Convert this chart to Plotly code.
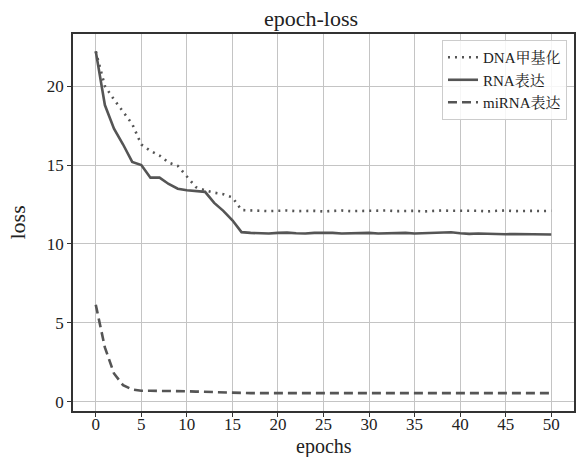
import plotly.graph_objects as go

epochs = list(range(51))

dna_methylation = [22.2, 20.0, 19.15, 18.4, 17.6, 16.3, 15.9, 15.6, 15.15, 14.95,
                   14.3, 13.6, 13.4, 13.25, 13.15, 12.95, 12.15, 12.12, 12.1, 12.08,
                   12.1, 12.12, 12.08, 12.1, 12.1, 12.06, 12.1, 12.12, 12.08, 12.1,
                   12.08, 12.1, 12.12, 12.08, 12.1, 12.1, 12.06, 12.1, 12.12, 12.1,
                   12.08, 12.1, 12.1, 12.06, 12.1, 12.12, 12.08, 12.1, 12.1, 12.08,
                   12.1]

rna_expr = [22.2, 18.8, 17.3, 16.3, 15.2, 15.0, 14.2, 14.2, 13.8, 13.5,
            13.4, 13.35, 13.3, 12.6, 12.1, 11.5, 10.75, 10.7, 10.68, 10.66,
            10.7, 10.72, 10.68, 10.66, 10.7, 10.72, 10.7, 10.66, 10.68, 10.72,
            10.7, 10.66, 10.68, 10.72, 10.7, 10.66, 10.68, 10.7, 10.72, 10.74,
            10.68, 10.64, 10.66, 10.64, 10.62, 10.62, 10.63, 10.62, 10.62, 10.61,
            10.6]

mirna_expr = [6.15, 3.45, 1.8, 1.05, 0.78, 0.7, 0.7, 0.7, 0.7, 0.68,
              0.67, 0.65, 0.63, 0.6, 0.57, 0.55, 0.55, 0.55, 0.55, 0.55,
              0.55, 0.55, 0.55, 0.55, 0.55, 0.55, 0.55, 0.55, 0.55, 0.55,
              0.55, 0.55, 0.55, 0.55, 0.55, 0.55, 0.55, 0.55, 0.55, 0.55,
              0.55, 0.55, 0.55, 0.55, 0.55, 0.55, 0.55, 0.55, 0.55, 0.55,
              0.55]

series_names = ["DNA甲基化", "RNA表达", "miRNA表达"]
x_ticks = [0, 5, 10, 15, 20, 25, 30, 35, 40, 45, 50]
y_ticks = [0, 5, 10, 15, 20]

FONT = "Liberation Serif, Times New Roman, Noto Serif CJK SC, Noto Sans CJK SC, serif"
LINE = "#555555"

fig = go.Figure()
fig.add_trace(go.Scatter(x=epochs, y=dna_methylation, mode="lines", name=series_names[0],
                         line=dict(color=LINE, width=2.6, dash="2px,5px")))
fig.add_trace(go.Scatter(x=epochs, y=rna_expr, mode="lines", name=series_names[1],
                         line=dict(color=LINE, width=2.6)))
fig.add_trace(go.Scatter(x=epochs, y=mirna_expr, mode="lines", name=series_names[2],
                         line=dict(color=LINE, width=2.6, dash="9px,5px")))

axis_common = dict(showgrid=True, gridcolor="#c4c4c4", gridwidth=1,
                   showline=True, linecolor="#333333", linewidth=1.5, mirror=True,
                   ticks="outside", ticklen=4, tickcolor="#333333", tickwidth=1.2,
                   zeroline=False, automargin=False,
                   tickfont=dict(family=FONT, size=17, color="#222"))

L, R, T, B = 73, 11, 34, 46
W, H = 585, 457
pw, ph = W - L - R, H - T - B

fig.update_layout(
    width=W, height=H,
    margin=dict(l=L, r=R, t=T, b=B),
    paper_bgcolor="white", plot_bgcolor="white",
    font=dict(family=FONT, color="#222"),
    title=dict(text="epoch-loss", x=311/W, xanchor="center", xref="container",
               y=1 - 18/H, yanchor="middle", yref="container",
               font=dict(family=FONT, size=22, color="#222")),
    xaxis=dict(range=[-2.5, 52.5], tickvals=x_ticks, ticklabelstandoff=-7, **axis_common),
    yaxis=dict(range=[-0.58, 23.3], tickvals=y_ticks, **axis_common),
    legend=dict(x=0.986, y=0.984, xanchor="right", yanchor="top",
                bgcolor="rgba(255,255,255,0.85)", bordercolor="#cccccc", borderwidth=1,
                font=dict(family=FONT, size=15, color="#222"),
                itemwidth=30, tracegroupgap=0),
    showlegend=True,
    annotations=[
        dict(text="epochs", xref="paper", yref="paper", x=0.5, y=-(446 - (H - B)) / ph,
             xanchor="center", yanchor="middle", showarrow=False, borderpad=0,
             font=dict(family=FONT, size=20, color="#222")),
        dict(text="loss", xref="paper", yref="paper", x=-(L - 17) / pw, y=0.5,
             xanchor="center", yanchor="middle", textangle=-90, showarrow=False,
             font=dict(family=FONT, size=22, color="#222")),
    ],
)

fig.write_html("out.html", config={"displayModeBar": False},
               post_script="document.body.style.margin='0';document.body.style.padding='0';")
